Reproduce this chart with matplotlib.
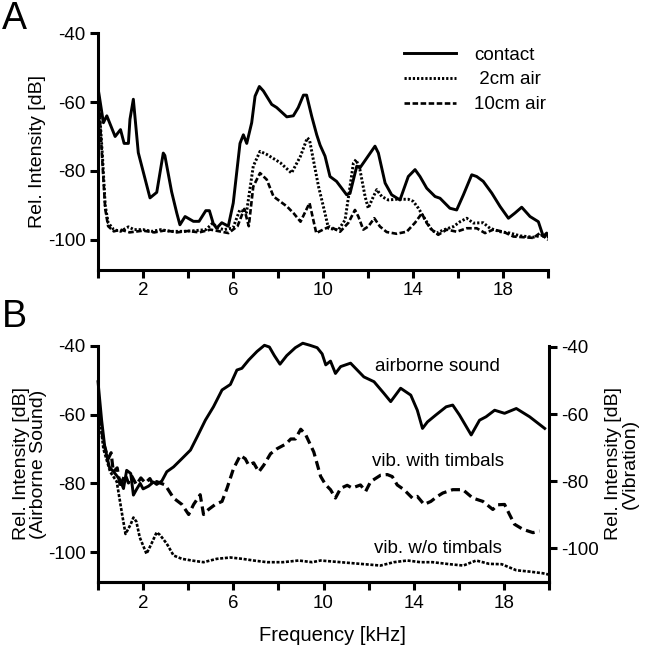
import matplotlib.pyplot as plt
from matplotlib.ticker import FixedLocator

plt.rcParams['font.family'] = ['Liberation Sans', 'DejaVu Sans']
plt.rcParams['axes.unicode_minus'] = False
plt.rcParams['lines.scale_dashes'] = False

# ---- panel A : contact vs airborne recordings ----
contact_f = [0.0, 0.05, 0.24, 0.39, 0.76, 1.0, 1.16, 1.35, 1.42, 1.57, 1.79, 2.31, 2.61, 2.9, 2.97,
             3.27, 3.5, 3.64, 3.87, 4.24, 4.49, 4.79, 4.95, 5.12, 5.27, 5.5, 5.79, 6.01, 6.31, 6.46,
             6.61, 6.83, 6.98, 7.17, 7.35, 7.72, 7.94, 8.39, 8.68, 8.9, 9.13, 9.27, 9.5, 9.72, 9.87,
             10.09, 10.31, 10.6, 11.05, 11.2, 11.5, 11.64, 11.79, 12.31, 12.46, 12.76, 13.05, 13.42,
             13.79, 14.09, 14.31, 14.61, 14.98, 15.2, 15.64, 15.94, 16.24, 16.61, 16.83, 17.12, 17.5,
             17.87, 18.24, 18.53, 18.83, 19.2, 19.57, 19.79, 19.94, 20.0]
contact_db = [-56, -58, -66, -64, -70, -68, -72, -72, -65, -59.2, -74.7, -87.8, -86.2, -74.8, -75.5,
              -86, -92.2, -95.6, -93.2, -94.6, -94.6, -91.5, -91.5, -95.2, -96.6, -95, -96, -89.3, -72, -69.5,
              -72, -66, -58.3, -55.5, -56.8, -60.7, -61.6, -64.3, -64, -61.6, -58, -58, -64.2, -69.5, -72.5,
              -75.7, -81.6, -83, -86.9, -86.5, -78.6, -79.1, -77.7, -72.8, -74.8, -83.5, -86.9, -88.4,
              -81.6, -79.6, -81.6, -85, -87.4, -87.9, -90.8, -91.3, -86.9, -81.1, -81.6, -83, -86.4,
              -90.3, -93.7, -92.2, -90.5, -93.2, -94.7, -99, -98, -99]

air2_f = [0.0, 0.1, 0.2, 0.32, 0.45, 0.7, 1.0, 1.35, 1.6, 2.0, 2.4, 2.8, 3.2, 3.8, 4.3, 4.8, 5.1, 5.3,
          5.6, 6.0, 6.3, 6.6, 6.9, 7.2, 7.5, 8.1, 8.6, 9.0, 9.3, 9.4, 9.8, 10.09, 10.24, 10.68, 10.98,
          11.2, 11.35, 11.47, 11.64, 11.87, 12.01, 12.24, 12.39, 12.61, 12.9, 13.27, 13.79, 14.01,
          14.24, 14.46, 14.83, 15.05, 15.35, 15.8, 16.09, 16.39, 16.68, 17.12, 17.42, 17.87, 18.31,
          18.76, 19.35, 19.8, 20.0]
air2_db = [-56, -66, -76, -90, -95, -97, -97.5, -96.2, -97, -97, -97.5, -97, -97.5, -97.5, -97.3, -97,
           -95.1, -96.5, -97, -96.5, -91.3, -92, -78.6, -74.3, -75.2, -77.6, -80.6, -75.7, -70.4, -71,
           -84.5, -92.3, -96.6, -97.1, -94.2, -84.5, -77.7, -76.7, -79.6, -87.4, -90.8, -87.4, -85.4,
           -87.4, -88.4, -88.2, -88.2, -88.8, -90.8, -93.2, -97.1, -98, -97.1, -96.1, -94.7, -93.7,
           -95.1, -95, -96.6, -97.6, -98, -98.8, -99.2, -98.5, -99.4]

air10_f = [0.0, 0.1, 0.2, 0.32, 0.45, 0.7, 1.0, 1.4, 2.0, 2.5, 3.0, 3.5, 4.0, 4.5, 5.0, 5.4, 5.8, 6.2,
           6.5, 6.7, 6.9, 7.2, 7.5, 7.8, 8.4, 8.7, 9.0, 9.4, 9.7, 10.0, 10.3, 10.76, 11.13, 11.42,
           11.57, 11.79, 12.01, 12.28, 12.53, 12.83, 13.27, 13.72, 14.09, 14.39, 14.61, 14.83, 15.12,
           15.5, 15.94, 16.39, 16.83, 17.2, 17.57, 18.01, 18.46, 18.9, 19.35, 19.64, 20.0]
air10_db = [-56, -67, -78, -91, -96, -97.5, -97, -97.8, -97.3, -97.8, -97.2, -97.8, -97.4, -97.8, -97,
            -97.5, -98, -96, -91, -96, -84.5, -80.6, -82.5, -87.4, -90.3, -92.3, -94.7, -89.3, -98, -97,
            -96.1, -97.6, -95, -91.3, -93.2, -97, -96.1, -93.7, -96.1, -97.7, -98.2, -97.6, -95, -92.3,
            -95.1, -97, -98.5, -97, -97.6, -96.6, -96.6, -98, -97, -97.6, -99, -99.2, -99.4, -98, -100]

# ---- panel B : airborne sound (left axis) and vibration (right axis) ----
sound_f = [0.0, 0.16, 0.3, 0.5, 0.75, 0.98, 1.13, 1.27, 1.45, 1.57, 1.72, 1.87, 2.0, 2.24, 2.46, 2.6,
           2.83, 3.05, 3.35, 3.72, 4.1, 4.4, 4.76, 5.12, 5.5, 5.87, 6.16, 6.38, 6.68, 7.05, 7.38, 7.6,
           7.82, 8.07, 8.37, 8.75, 9.08, 9.4, 9.72, 9.94, 10.1, 10.31, 10.53, 10.76, 11.2, 11.79, 12.24,
           12.68, 12.98, 13.42, 13.87, 14.16, 14.39, 14.61, 14.98, 15.44, 15.73, 16.03, 16.55, 16.92,
           17.21, 17.59, 18.03, 18.55, 19.14, 19.81]
sound_db = [-50.4, -61.6, -69.4, -75.2, -77.1, -79, -81.5, -76.2, -77.1, -83.4, -81.6, -80, -81.6, -80.8,
            -79.6, -80.3, -79.3, -76.6, -75.2, -72.8, -70.3, -66.4, -61.6, -57.7, -52.8, -51.2, -47,
            -46.5, -44.1, -41.6, -39.8, -40.3, -42.8, -45.3, -42.8, -40.5, -39.2, -39.8, -40.5, -42.3,
            -45.5, -44.4, -48, -46, -45, -49, -50.4, -53.8, -56.2, -52.3, -54.3, -58.7, -64, -62.1,
            -60.1, -57.7, -57.2, -60.1, -65.9, -61.6, -60.6, -58.7, -59.6, -58.2, -60.6, -64]

vib_f = [0.0, 0.24, 0.45, 0.58, 0.68, 0.85, 1.0, 1.07, 1.2, 1.35, 1.5, 1.7, 1.9, 2.1, 2.3, 2.45, 2.6,
         2.98, 3.35, 3.72, 4.02, 4.24, 4.53, 4.68, 4.9, 5.2, 5.5, 5.72, 6.01, 6.31, 6.53, 6.68, 6.9,
         7.13, 7.35, 7.65, 7.94, 8.33, 8.55, 8.75, 8.99, 9.2, 9.57, 9.87, 10.09, 10.31, 10.53, 10.76,
         11.05, 11.27, 11.64, 11.87, 12.09, 12.53, 12.83, 13.05, 13.27, 13.57, 13.94, 14.16, 14.46,
         14.76, 15.05, 15.29, 15.73, 16.18, 16.62, 17.07, 17.51, 17.73, 18.03, 18.25, 18.47, 18.84,
         19.29, 19.58]
vib_db = [-56.7, -68.4, -73.3, -71.5, -77.2, -76, -82, -80, -78, -80.5, -78.5, -81, -79, -80.5, -79.2,
          -81, -80.1, -81.1, -85, -86.9, -89.9, -86.9, -84, -89.9, -88.4, -86.9, -86, -82.1, -76.2,
          -72.3, -73.3, -75.2, -74.5, -77.2, -75.2, -71.8, -70.3, -68.9, -67.4, -67.4, -64.5, -66,
          -71.3, -78.5, -81, -82.5, -85, -82.1, -81.2, -82, -81.1, -83, -80.1, -78.2, -78, -78.6,
          -81.1, -82.5, -85, -84.5, -86.9, -86, -84.5, -83.5, -82.5, -82.5, -85, -86, -88.4, -87,
          -86.9, -89.9, -92.8, -94.3, -95.3, -94.8]

novib_f = [0.0, 0.24, 0.54, 0.83, 1.07, 1.22, 1.45, 1.57, 1.7, 1.85, 2.15, 2.37, 2.6, 2.75, 3.05, 3.35,
           3.72, 4.16, 4.68, 5.27, 5.87, 6.4, 6.9, 7.5, 8.2, 8.9, 9.5, 9.87, 10.76, 11.64, 12.53,
           13.12, 13.72, 14.3, 14.84, 15.6, 16.2, 16.77, 17.35, 17.9, 18.55, 19.14, 19.73, 20.0]
novib_db = [-56.7, -70.4, -77.2, -80.1, -89.9, -95.7, -92.8, -90.8, -92, -96.7, -101.6, -98.6, -95.2,
            -96, -98.6, -102.1, -103.1, -103.6, -104.1, -103.1, -102.7, -103.1, -103.6, -104.1, -104.1,
            -103.6, -104.1, -103.6, -104.1, -104.6, -105.1, -104.1, -103.6, -104.1, -104.1, -104.7,
            -105.1, -103.6, -104.6, -104.7, -106.5, -106.9, -107.4, -107.8]

x_major = [2, 6, 10, 14, 18]
x_minor = [0, 4, 8, 12, 16, 20]
y_ticks = [-40, -60, -80, -100]


def style_axis(ax):
    for side in ('left', 'bottom', 'right'):
        ax.spines[side].set_linewidth(2.2)
    ax.spines['top'].set_visible(False)
    ax.set_xlim(0, 20)
    ax.xaxis.set_major_locator(FixedLocator(x_major))
    ax.xaxis.set_minor_locator(FixedLocator(x_minor))
    ax.tick_params(which='both', direction='out', length=6, width=2.2, labelsize=13.5, pad=3)
    ax.set_yticks(y_ticks)


fig = plt.figure(figsize=(6.5, 6.58), dpi=100)

# panel A
axA = fig.add_axes([0.1508, 0.5897, 0.6923, 0.3601])
axA.plot(contact_f, contact_db, color='black', lw=2.1, label='contact')
axA.plot(air2_f, air2_db, color='black', lw=2.1, dashes=(1.6, 1.4), label=' 2cm air')
axA.plot(air10_f, air10_db, color='black', lw=1.9, dashes=(4.0, 1.8), label='10cm air')
style_axis(axA)
axA.spines['right'].set_visible(False)
axA.set_ylim(-108.7, -40)
axA.set_ylabel('Rel. Intensity [dB]', fontsize=14, labelpad=1.5)
axA.legend(loc='upper left', bbox_to_anchor=(0.621, 0.929), bbox_transform=fig.transFigure,
           frameon=False, fontsize=13.5, handlelength=2.8, handletextpad=0.95, labelspacing=0.4,
           borderpad=0, borderaxespad=0)
fig.text(0.003, 0.998, 'A', fontsize=27, ha='left', va='top')

# panel B
axB = fig.add_axes([0.1508, 0.1155, 0.6938, 0.3587])
axB.plot(sound_f, sound_db, color='black', lw=2.1, clip_on=False)
style_axis(axB)
axB.spines['right'].set_visible(False)
axB.set_ylim(-108.7, -40)
axB.set_ylabel('Rel. Intensity [dB]\n(Airborne Sound)', fontsize=14, labelpad=0.5, linespacing=1.0)
axB.set_xlabel('Frequency [kHz]', fontsize=14.5)
axB.xaxis.set_label_coords(0.52, -0.188)

axV = axB.twinx()
axV.plot(vib_f, vib_db, color='black', lw=2.3, dashes=(6.5, 3.5))
axV.plot(novib_f, novib_db, color='black', lw=1.9, dashes=(2.2, 1.2))
style_axis(axV)
axV.spines['left'].set_visible(False)
axV.set_ylim(-110, -39.7)
axV.set_ylabel('Rel. Intensity [dB]\n(Vibration)', fontsize=14, labelpad=4, linespacing=1.0)

axB.text(15.07, -46.1, 'airborne sound', fontsize=13.5, ha='center', va='center')
axB.text(15.07, -73.5, 'vib. with timbals', fontsize=13.5, ha='center', va='center')
axB.text(15.07, -98.9, 'vib. w/o timbals', fontsize=13.5, ha='center', va='center')
fig.text(0.003, 0.545, 'B', fontsize=27, ha='left', va='top')

fig.savefig('out.png', dpi=100)
